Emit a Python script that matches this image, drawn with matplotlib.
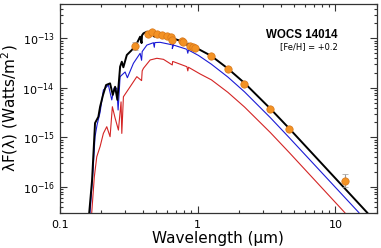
import matplotlib
matplotlib.use("Agg")
import matplotlib.pyplot as plt
from matplotlib.ticker import FixedLocator, FixedFormatter, LogLocator, NullFormatter

plt.rcParams['font.family'] = ['DejaVu Sans']
plt.rcParams['mathtext.default'] = 'regular'

# ---- data ----
black_wl = [0.164, 0.172, 0.1807, 0.191, 0.1966, 0.2066, 0.2173, 0.2323, 0.243, 0.2526,
            0.2624, 0.2746, 0.2825, 0.290, 0.3071, 0.334, 0.363, 0.3836, 0.393, 0.396,
            0.4055, 0.4291, 0.479, 0.486, 0.492, 0.5996, 0.656, 0.66, 0.791, 0.85, 0.86,
            0.99, 1.26, 1.66, 2.19, 3.37, 4.63, 17.0]
black_fl = [3.0e-17, 1.37e-16, 1.94e-15, 2.6e-15, 4.15e-15, 7.2e-15, 1.14e-14, 1.23e-14, 7.2e-15, 1.05e-14,
            5.7e-15, 2.67e-14, 3.37e-14, 2.6e-14, 4.6e-14, 5.8e-14, 7.9e-14, 1.08e-13, 8.0e-14, 1.15e-13,
            1.26e-13, 1.36e-13, 1.26e-13, 1.08e-13, 1.25e-13, 1.08e-13, 9.0e-14, 1.0e-13, 8.5e-14, 7.2e-14, 7.8e-14,
            6.3e-14, 4.4e-14, 2.45e-14, 1.25e-14, 3.8e-15, 1.5e-15, 3.0e-17]

blue_wl = [0.1662, 0.1748, 0.1807, 0.1868, 0.1966, 0.2077, 0.2258, 0.2389, 0.2483, 0.2598,
           0.2656, 0.2746, 0.2985, 0.31, 0.343, 0.3836, 0.393, 0.397, 0.4291, 0.479, 0.486,
           0.49, 0.5358, 0.6696, 0.656, 0.66, 0.8375, 0.85, 0.86, 1.017, 1.26, 1.66, 2.19,
           3.37, 4.63, 14.8]
blue_fl = [3.0e-17, 2.18e-16, 1.03e-15, 1.77e-15, 3.2e-15, 9.0e-15, 1.14e-14, 5.7e-15, 9.9e-15, 9.8e-15,
           3.56e-15, 1.68e-14, 2.09e-14, 1.6e-14, 3.13e-14, 4.98e-14, 3.6e-14, 5.4e-14, 7.3e-14, 8.15e-14, 6.6e-14,
           8.2e-14, 8.3e-14, 7.3e-14, 6.2e-14, 7.4e-14, 6.0e-14, 5.0e-14, 5.8e-14, 4.5e-14, 3.0e-14, 1.65e-14, 8.3e-15,
           2.5e-15, 9.8e-16, 3.0e-17]

red_wl = [0.171, 0.1786, 0.186, 0.1966, 0.2077, 0.2198, 0.2323, 0.2413, 0.2526, 0.267,
          0.279, 0.2825, 0.2902, 0.3245, 0.363, 0.393, 0.397, 0.4055, 0.4534, 0.5073, 0.5664,
          0.656, 0.66, 0.6696, 0.8375, 0.85, 0.86, 1.046, 1.26, 1.66, 2.19, 3.37, 4.63, 11.7]
red_fl = [3.0e-17, 1.6e-16, 4.05e-16, 6.5e-16, 1.2e-15, 1.64e-15, 1.03e-15, 4.15e-15, 2.45e-15, 1.4e-15,
          5.2e-15, 1.2e-15, 6.6e-15, 1.05e-14, 1.68e-14, 1.4e-14, 2.2e-14, 2.48e-14, 3.65e-14, 3.95e-14, 3.76e-14,
          2.9e-14, 3.4e-14, 3.37e-14, 2.67e-14, 2.2e-14, 2.6e-14, 1.9e-14, 1.45e-14, 8.1e-15, 4.1e-15, 1.25e-15, 4.9e-16, 3.0e-17]

phot_wl = [0.353, 0.441, 0.471, 0.507, 0.551, 0.600, 0.640, 0.655, 0.770, 0.790,
           0.875, 0.920, 0.962, 1.258, 1.66, 2.19, 3.37, 4.63, 11.7]
phot_fl = [7.0e-14, 1.22e-13, 1.32e-13, 1.20e-13, 1.17e-13, 1.13e-13, 1.04e-13, 0.93e-13, 0.89e-13, 0.83e-13,
           0.71e-13, 0.66e-13, 0.65e-13, 4.3e-14, 2.4e-14, 1.19e-14, 3.7e-15, 1.45e-15, 1.33e-16]
phot_err_lo = [1.2e-14, 0, 0, 0, 0, 0, 0, 0, 0, 0, 0, 0, 0, 0, 0, 0, 0, 0, 0.33e-16]
phot_err_hi = [1.5e-14, 0, 0, 0, 0, 0, 0, 0, 0, 0, 0, 0, 0, 0, 0, 0, 0, 0, 0.47e-16]

xticks = [0.1, 1, 10]
xticklabels = ['0.1', '1', '10']
yticks = [1e-16, 1e-15, 1e-14, 1e-13]
yticklabels = [r'$10^{-16}$', r'$10^{-15}$', r'$10^{-14}$', r'$10^{-13}$']

title_text = 'WOCS 14014'
sub_text = '[Fe/H] = +0.2'

# ---- figure ----
fig = plt.figure(figsize=(3.81, 2.48), dpi=100)
ax = fig.add_axes([0.1564, 0.1423, 0.9895 - 0.1564, 0.985 - 0.1423])

ax.plot(red_wl, red_fl, color='#d42424', lw=0.8, zorder=2)
ax.plot(blue_wl, blue_fl, color='#1a1ad6', lw=0.8, zorder=3)
ax.plot(black_wl, black_fl, color='black', lw=1.4, zorder=4)

ax.errorbar(phot_wl, phot_fl, yerr=[phot_err_lo, phot_err_hi], fmt='o', ms=5.3,
            mfc='#f39224', mec='#d7761a', mew=0.5, ecolor='#9a9a9a', elinewidth=0.8,
            capsize=2, capthick=0.8, zorder=5)

ax.set_xscale('log')
ax.set_yscale('log')
ax.set_xlim(0.1, 20)
ax.set_ylim(3e-17, 5e-13)

ax.xaxis.set_major_locator(FixedLocator(xticks))
ax.xaxis.set_major_formatter(FixedFormatter(xticklabels))
ax.xaxis.set_minor_locator(LogLocator(base=10, subs=range(2, 10)))
ax.xaxis.set_minor_formatter(NullFormatter())
ax.yaxis.set_major_locator(FixedLocator(yticks))
ax.yaxis.set_major_formatter(FixedFormatter(yticklabels))
ax.yaxis.set_minor_locator(LogLocator(base=10, subs=range(2, 10)))
ax.yaxis.set_minor_formatter(NullFormatter())

ax.tick_params(which='both', direction='in', top=True, right=True, width=0.8, colors='#333333', labelcolor='black')
ax.tick_params(which='major', length=5, labelsize=8)
ax.tick_params(which='minor', length=2.5)
ax.tick_params(axis='x', pad=5)
for s in ax.spines.values():
    s.set_linewidth(0.9)
    s.set_color('#333333')

ax.set_xlabel('Wavelength (\u03bcm)', fontsize=11, labelpad=1)
ax.set_ylabel('\u03bbF(\u03bb) (Watts/m$^2$)', fontsize=11, labelpad=2)

ax.text(0.877, 0.852, title_text, transform=ax.transAxes, ha='right', va='center',
        fontsize=8.3, fontweight='semibold', family=['Liberation Sans', 'DejaVu Sans'])
ax.text(0.877, 0.795, sub_text, transform=ax.transAxes, ha='right', va='center',
        fontsize=6)

fig.savefig('out.png', dpi=100)
